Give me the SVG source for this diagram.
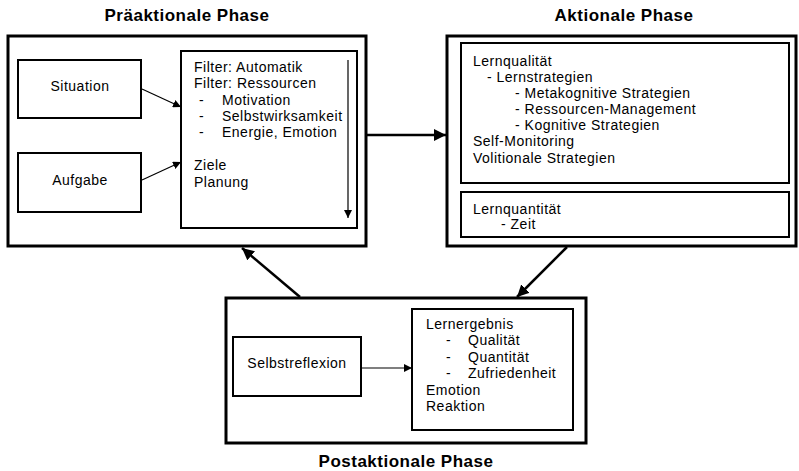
<svg xmlns="http://www.w3.org/2000/svg" width="799" height="471" viewBox="0 0 799 471">
<defs>
<style>
text{font-family:"Liberation Sans",Arial,sans-serif;font-size:14px;letter-spacing:0.5px;fill:#000}
.t{font-size:17px;font-weight:bold;text-anchor:middle;letter-spacing:0.5px}
.c{text-anchor:middle}
.outer{fill:#fff;stroke:#000;stroke-width:3}
.inner{fill:#fff;stroke:#000;stroke-width:2}
.thin{stroke:#000;stroke-width:1.2;fill:none}
.thick{stroke:#000;stroke-width:2.5;fill:none}
</style>
<marker id="ah" viewBox="0 0 10 10" refX="10" refY="5" markerWidth="8" markerHeight="8" markerUnits="userSpaceOnUse" orient="auto"><path d="M0,0 L10,5 L0,10 z" fill="#000"/></marker>
<marker id="ahb" viewBox="0 0 10 10" refX="10" refY="5" markerWidth="12" markerHeight="12" markerUnits="userSpaceOnUse" orient="auto"><path d="M0,0 L10,5 L0,10 z" fill="#000"/></marker>
</defs>
<rect width="799" height="471" fill="#fff"/>
<g id="praeaktional">
<text class="t" x="187" y="21">Präaktionale Phase</text>
<rect class="outer" x="8" y="36" width="358" height="210"/>
<g id="situation"><rect class="inner" x="18" y="60" width="123" height="58"/><text class="c" x="80" y="91">Situation</text></g>
<g id="aufgabe"><rect class="inner" x="18" y="153" width="123" height="59"/><text class="c" x="80" y="185">Aufgabe</text></g>
<g id="filter"><rect class="inner" x="181" y="51" width="176" height="177"/>
<text x="194" y="72">Filter: Automatik</text>
<text x="194" y="88">Filter: Ressourcen</text>
<text x="199" y="105">-</text><text x="222" y="105">Motivation</text>
<text x="199" y="121">-</text><text x="222" y="121">Selbstwirksamkeit</text>
<text x="199" y="137">-</text><text x="222" y="137">Energie, Emotion</text>
<text x="194" y="170">Ziele</text>
<text x="194" y="187">Planung</text>
<line class="thin" x1="348" y1="60" x2="348" y2="218" marker-end="url(#ah)"/>
</g>
</g>
<g id="aktional">
<text class="t" x="624" y="21">Aktionale Phase</text>
<rect class="outer" x="447" y="36" width="349" height="210"/>
<g id="lernqualitaet"><rect class="inner" x="461" y="43" width="328" height="140"/>
<text x="473" y="66">Lernqualität</text>
<text x="487" y="82">- Lernstrategien</text>
<text x="515" y="98">- Metakognitive Strategien</text>
<text x="515" y="114">- Ressourcen-Management</text>
<text x="515" y="130">- Kognitive Strategien</text>
<text x="473" y="146">Self-Monitoring</text>
<text x="473" y="163">Volitionale Strategien</text>
</g>
<g id="lernquantitaet"><rect class="inner" x="461" y="192" width="328" height="45"/>
<text x="473" y="214">Lernquantität</text>
<text x="501" y="229">- Zeit</text>
</g>
</g>
<g id="postaktional">
<text class="t" x="406" y="467">Postaktionale Phase</text>
<rect class="outer" x="226" y="298" width="360" height="145"/>
<g id="selbstreflexion"><rect class="inner" x="233" y="337" width="128" height="59"/><text class="c" x="297" y="368">Selbstreflexion</text></g>
<g id="lernergebnis"><rect class="inner" x="412" y="309" width="161" height="121"/>
<text x="426" y="329">Lernergebnis</text>
<text x="446" y="345">-</text><text x="468" y="345">Qualität</text>
<text x="446" y="362">-</text><text x="468" y="362">Quantität</text>
<text x="446" y="378">-</text><text x="468" y="378">Zufriedenheit</text>
<text x="426" y="395">Emotion</text>
<text x="426" y="411">Reaktion</text>
</g>
</g>
<g id="connectors">
<line class="thin" x1="142" y1="89" x2="181" y2="107" marker-end="url(#ah)"/>
<line class="thin" x1="142" y1="180" x2="181" y2="162" marker-end="url(#ah)"/>
<line class="thin" x1="361" y1="368" x2="412" y2="368" marker-end="url(#ah)"/>
<line class="thick" x1="366" y1="135" x2="446" y2="135" marker-end="url(#ahb)"/>
<line class="thick" x1="300" y1="297" x2="242" y2="248" marker-end="url(#ahb)"/>
<line class="thick" x1="567" y1="247" x2="517" y2="297" marker-end="url(#ahb)"/>
</g>
</svg>
